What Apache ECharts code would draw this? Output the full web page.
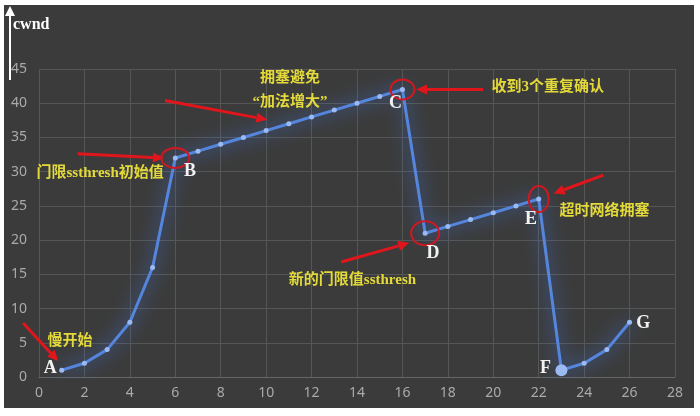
<!DOCTYPE html>
<html>
<head>
<meta charset="utf-8">
<script src="https://cdn.jsdelivr.net/npm/echarts@6/dist/echarts.min.js"></script>
<style>
  html, body { margin: 0; padding: 0; background: #fff; }
  #main { width: 700px; height: 416px; }
</style>
</head>
<body>
<div id="main"></div>
<script>
// transmission round vs congestion window
var rounds = [1, 2, 3, 4, 5, 6, 7, 8, 9, 10, 11, 12, 13, 14, 15, 16, 17, 18, 19, 20, 21, 22, 23, 24, 25, 26];
var cwnd = [1, 2, 4, 8, 16, 32, 33, 34, 35, 36, 37, 38, 39, 40, 41, 42, 21, 22, 23, 24, 25, 26, 1, 2, 4, 8];

// annotation arrows, data coords [from, to]
var arrows = [
  [[-0.7, 7.9], [0.85, 2.3]],
  [[1.7, 32.6], [5.5, 32.0]],
  [[5.55, 40.4], [10.05, 37.6]],
  [[19.55, 42.0], [16.6, 42.0]],
  [[13.3, 16.8], [16.3, 19.6]],
  [[24.85, 29.5], [22.65, 26.8]]
];
// red rings: [x, y, rx, ry]
var rings = [
  [6, 32, 14, 10],
  [16, 42, 12, 10],
  [17, 21, 14, 12],
  [22, 26, 10, 13]
];
var letters = [
  ['A', 0.5, 1.2], ['B', 6.65, 30.1], ['C', 15.7, 40], ['D', 17.35, 18], ['E', 21.66, 23.1],
  ['F', 22.3, 1.3], ['G', 26.6, 7.9]
];
var notes = [
  ['慢开始', 1.37, 5.2],
  ['门限ssthresh初始值', 2.69, 29.8],
  ['拥塞避免', 11.05, 43.6],
  ['“加法增大”', 11.05, 40.1],
  ['收到3个重复确认', 22.4, 42.4],
  ['新的门限值ssthresh', 13.8, 14.2],
  ['超时网络拥塞', 24.9, 24.3]
];

var chart = echarts.init(document.getElementById('main'));

chart.setOption({
  animation: false,
  grid: { left: 39, right: 25, top: 69, bottom: 39 },
  xAxis: {
    type: 'value', min: 0, max: 28, interval: 2,
    axisLine: { lineStyle: { color: '#666' } },
    axisTick: { show: false },
    axisLabel: { color: '#aaa', fontSize: 14, margin: 9, fontFamily: 'Noto Sans' },
    splitLine: { lineStyle: { color: '#565656' } }
  },
  yAxis: {
    type: 'value', min: 0, max: 45, interval: 5,
    axisLine: { show: false },
    axisTick: { show: false },
    axisLabel: { color: '#aaa', fontSize: 14, margin: 12, fontFamily: 'Noto Sans' },
    splitLine: { lineStyle: { color: '#565656' } }
  },
  series: [{
    type: 'line',
    data: rounds.map(function (r, i) { return [r, cwnd[i]]; }),
    symbol: 'circle',
    symbolSize: function (v) { return v[0] === 23 ? 12 : 5; },
    lineStyle: {
      color: '#5586de', width: 3,
      shadowColor: 'rgba(70,130,255,1)', shadowBlur: 18
    },
    itemStyle: { color: '#9bbaf2' },
    z: 5
  }]
});

function px(p) { return chart.convertToPixel({ gridIndex: 0 }, p); }

var g = [];
// chart backdrop
g.push({ type: 'rect', shape: { x: 4, y: 5, width: 690, height: 403 }, style: { fill: '#3b3b3b' }, z: -10 });

// cwnd axis arrow
g.push({ type: 'line', shape: { x1: 10, y1: 80, x2: 10, y2: 14 }, style: { stroke: '#fff', lineWidth: 2 }, z: 10 });
g.push({ type: 'polygon', shape: { points: [[10, 6], [5, 16], [15, 16]] }, style: { fill: '#fff' }, z: 10 });
g.push({
  type: 'text', x: 13, y: 25,
  style: { text: 'cwnd', fill: '#fff', font: 'bold 16px "Liberation Serif"', textVerticalAlign: 'middle' },
  z: 10
});

arrows.forEach(function (a) {
  var p1 = px(a[0]), p2 = px(a[1]);
  var ang = Math.atan2(p2[1] - p1[1], p2[0] - p1[0]);
  var L = 11, W = 5;
  var bx = p2[0] - L * Math.cos(ang), by = p2[1] - L * Math.sin(ang);
  g.push({ type: 'line', shape: { x1: p1[0], y1: p1[1], x2: bx, y2: by }, style: { stroke: '#e0161c', lineWidth: 3 }, z: 20 });
  g.push({
    type: 'polygon',
    shape: { points: [p2, [bx + W * Math.sin(ang), by - W * Math.cos(ang)], [bx - W * Math.sin(ang), by + W * Math.cos(ang)]] },
    style: { fill: '#e0161c' }, z: 20
  });
});

rings.forEach(function (r) {
  var c = px([r[0], r[1]]);
  g.push({ type: 'ellipse', shape: { cx: c[0], cy: c[1], rx: r[2], ry: r[3] }, style: { fill: 'none', stroke: '#d01820', lineWidth: 2 }, z: 20 });
});

letters.forEach(function (t) {
  var c = px([t[1], t[2]]);
  g.push({
    type: 'text', x: c[0], y: c[1],
    style: { text: t[0], fill: '#f2f2f2', font: 'bold 18px "Liberation Serif"', textAlign: 'center', textVerticalAlign: 'middle' },
    z: 20
  });
});

notes.forEach(function (t) {
  var c = px([t[1], t[2]]);
  g.push({
    type: 'text', x: c[0], y: c[1],
    style: { text: t[0], fill: '#e3da3a', font: 'bold 15px "Liberation Serif", "Noto Sans CJK SC"', textAlign: 'center', textVerticalAlign: 'middle' },
    z: 20
  });
});

chart.setOption({ graphic: g });
</script>
</body>
</html>
